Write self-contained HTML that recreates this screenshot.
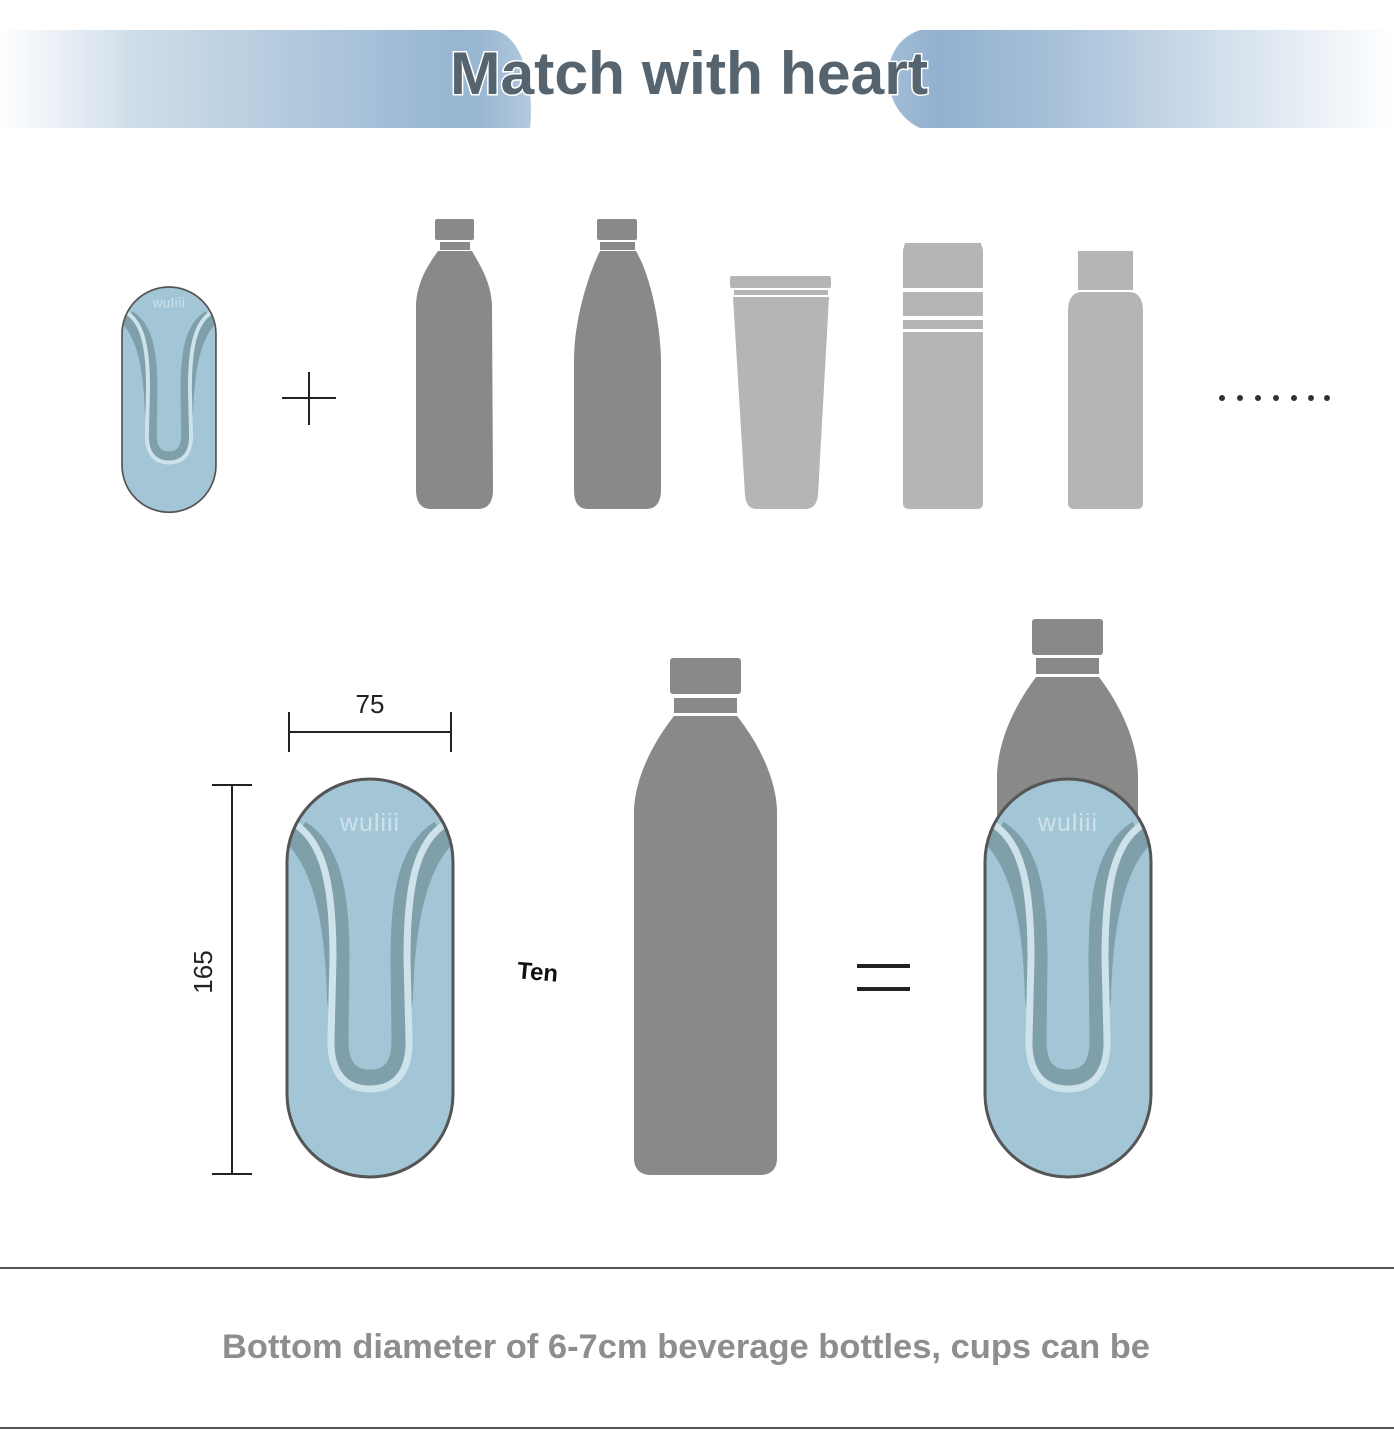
<!DOCTYPE html>
<html><head><meta charset="utf-8"><style>
html,body{margin:0;padding:0;background:#fff;}
body{width:1394px;height:1433px;position:relative;overflow:hidden;font-family:"Liberation Sans",sans-serif;}
svg{position:absolute;left:0;top:0;}
</style></head><body>
<svg width="1394" height="1433" viewBox="0 0 1394 1433" xmlns="http://www.w3.org/2000/svg">
<defs>
<linearGradient id="gl" x1="0" x2="1" y1="0" y2="0">
<stop offset="0" stop-color="#fff"/><stop offset="0.25" stop-color="#cfdde9"/><stop offset="0.85" stop-color="#97b6d2"/><stop offset="1" stop-color="#9dbad4"/></linearGradient>
<linearGradient id="gr" x1="0" x2="1" y1="0" y2="0">
<stop offset="0" stop-color="#88aacb"/><stop offset="0.35" stop-color="#a9c2da"/><stop offset="1" stop-color="#fff"/></linearGradient>
<linearGradient id="gm" x1="0" x2="1"><stop offset="0" stop-color="#fff" stop-opacity="0"/><stop offset="0.3" stop-color="#fff"/><stop offset="0.7" stop-color="#fff"/><stop offset="1" stop-color="#fff" stop-opacity="0"/></linearGradient>
<clipPath id="hc"><rect x="0" y="0" width="166" height="398" rx="83" ry="83"/></clipPath>
<g id="holderShape">
<rect x="0" y="0" width="166" height="398" rx="83" ry="83" fill="#a3c6d7"/>
<g clip-path="url(#hc)">
<path d="M-5,60 C25,85 38,140 40,220 L44,250 L46,180 C46,110 38,70 8,44 Z" fill="#7f9faa"/>
<path d="M171,60 C141,85 128,140 126,220 L122,250 L120,180 C120,110 128,62 158,44 Z" fill="#7f9faa"/>
<path d="M14,50 C46,70 54,115 54,180 L53,262 C53,290 66,299 83,299 C100,299 113,290 113,262 L112,180 C112,115 120,70 152,50" fill="none" stroke="#7f9faa" stroke-width="17"/>
<path d="M6,44 C38,62 46,110 46,180 L44,260 C43,296 60,310 83,310 C106,310 123,296 122,260 L120,180 C120,110 128,62 160,44" fill="none" stroke="#cde2eb" stroke-width="7"/>
</g>
<rect x="0" y="0" width="166" height="398" rx="83" ry="83" fill="none" stroke="#555" stroke-width="3"/>
</g>
</defs>
<!-- header -->
<path d="M0,30 L490,30 C520,30 535,80 530,128 L0,128 Z" fill="url(#gl)"/>
<path d="M920,30 L1394,30 L1394,128 L920,128 C880,110 875,45 920,30 Z" fill="url(#gr)"/>
<rect x="480" y="28" width="460" height="104" fill="url(#gm)" opacity="0.6"/>
<text x="689" y="94" text-anchor="middle" font-family="Liberation Sans, sans-serif" font-weight="bold" font-size="60" fill="#56646f" stroke="#fff" stroke-width="3" paint-order="stroke" textLength="478" lengthAdjust="spacingAndGlyphs">Match with heart</text>

<!-- small holder -->
<g transform="translate(122,287) scale(0.566)"><use href="#holderShape"/>
<text x="83" y="36" text-anchor="middle" font-size="24" fill="#cde2eb" font-family="Liberation Sans, sans-serif" letter-spacing="1">wuliii</text></g>
<!-- plus -->
<path d="M282,398 H336 M309,372 V425" stroke="#222" stroke-width="2"/>

<!-- bottles row -->
<g fill="#898989">
<rect x="435" y="219" width="39" height="21" rx="2"/>
<rect x="440" y="242" width="30" height="8"/>
<path d="M438,251 L472,251 C480,265 491,282 492,305 L493,490 C493,502 488,509 478,509 L431,509 C421,509 416,502 416,490 L416,305 C417,282 428,265 438,251 Z"/>
<rect x="597" y="219" width="40" height="21" rx="2"/>
<rect x="600" y="242" width="35" height="8"/>
<path d="M600,251 L636,251 C650,275 660,320 661,360 L661,490 C661,502 656,509 646,509 L588,509 C578,509 574,502 574,490 L574,360 C574,320 588,275 600,251 Z"/>
</g>
<g fill="#b5b5b5">
<rect x="730" y="276" width="101" height="12" rx="2"/>
<rect x="734" y="290" width="94" height="5"/>
<path d="M733,297 L829,297 L818,495 C817,504 813,509 805,509 L757,509 C749,509 746,504 745,495 Z"/>
<path d="M905,243 L981,243 L983,250 L983,288 L903,288 L903,250 Z"/>
<rect x="903" y="292" width="80" height="24"/>
<rect x="903" y="320" width="80" height="9"/>
<path d="M903,332 H983 V503 Q983,509 977,509 H909 Q903,509 903,503 Z"/>
<rect x="1078" y="251" width="55" height="39"/>
<path d="M1082,292 H1129 Q1143,292 1143,312 V503 Q1143,509 1137,509 H1074 Q1068,509 1068,503 V312 Q1068,292 1082,292 Z"/>
</g>
<g fill="#333">
<circle cx="1222" cy="398" r="3"/><circle cx="1240" cy="398" r="3"/><circle cx="1258" cy="398" r="3"/><circle cx="1276" cy="398" r="3"/><circle cx="1294" cy="398" r="3"/><circle cx="1311" cy="398" r="3"/><circle cx="1327" cy="398" r="3"/>
</g>

<!-- dimensions -->
<text x="370" y="713" text-anchor="middle" font-size="26" fill="#222">75</text>
<path d="M289,732 H451 M289,712 V752 M451,712 V752" stroke="#222" stroke-width="2"/>
<path d="M232,785 V1174 M212,785 H252 M212,1174 H252" stroke="#222" stroke-width="2"/>
<text transform="translate(212,972) rotate(-90)" text-anchor="middle" font-size="26" fill="#222">165</text>

<!-- large holder -->
<g transform="translate(287,779)"><use href="#holderShape"/>
<text x="83" y="52" text-anchor="middle" font-size="25" fill="#cde2eb" font-family="Liberation Sans, sans-serif" letter-spacing="1">wuliii</text></g>

<text transform="translate(537,980) rotate(5)" text-anchor="middle" font-size="24" font-weight="bold" fill="#111">Ten</text>

<!-- middle bottle -->
<g fill="#898989">
<rect x="670" y="658" width="71" height="36" rx="3"/>
<rect x="674" y="698" width="63" height="15"/>
<path d="M674,716 L737,716 C760,745 776,780 777,810 L777,1158 C777,1170 770,1175 760,1175 L651,1175 C641,1175 634,1170 634,1158 L634,810 C635,780 651,745 674,716 Z"/>
</g>
<!-- equals -->
<path d="M857,966 H910 M857,989 H910" stroke="#222" stroke-width="4"/>

<!-- right bottle with holder -->
<g fill="#898989">
<rect x="1032" y="619" width="71" height="36" rx="3"/>
<rect x="1036" y="658" width="63" height="16"/>
<path d="M1036,677 L1099,677 C1120,705 1137,740 1138,775 L1138,1050 L997,1050 L997,775 C998,740 1015,705 1036,677 Z"/>
</g>
<g transform="translate(985,779)"><use href="#holderShape"/>
<text x="83" y="52" text-anchor="middle" font-size="25" fill="#cde2eb" font-family="Liberation Sans, sans-serif" letter-spacing="1">wuliii</text></g>

<!-- bottom -->
<path d="M0,1268 H1394 M0,1428 H1394" stroke="#555" stroke-width="2"/>
<text x="686" y="1358" text-anchor="middle" font-size="34" font-weight="bold" fill="#8e8e8e" textLength="928" lengthAdjust="spacingAndGlyphs">Bottom diameter of 6-7cm beverage bottles, cups can be</text>
</svg>
</body></html>
